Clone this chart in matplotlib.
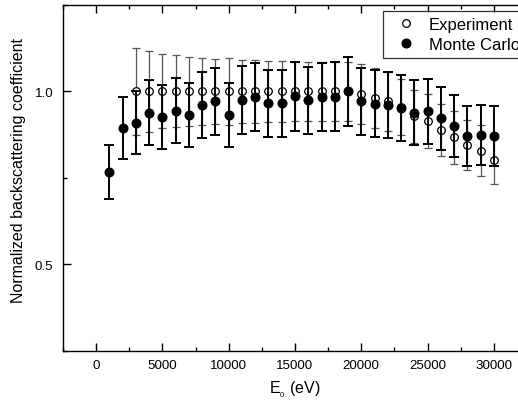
import numpy as np
import matplotlib
matplotlib.use("Agg")
import matplotlib.pyplot as plt
from matplotlib.ticker import MultipleLocator

plt.rcParams['font.family'] = ['Liberation Sans', 'DejaVu Sans']
plt.rcParams['mathtext.fontset'] = 'custom'
plt.rcParams['mathtext.rm'] = 'Liberation Sans'
plt.rcParams['mathtext.it'] = 'Liberation Sans'

# measured points
e_exp = [3000, 4000, 5000, 6000, 7000, 8000, 9000, 10000, 11000, 12000,
         13000, 14000, 15000, 16000, 17000, 18000, 19000, 20000, 21000, 22000,
         23000, 24000, 25000, 26000, 27000, 28000, 29000, 30000]
eta_exp = [1.0, 1.0, 1.0, 1.0, 1.0, 1.0, 1.0, 1.0, 1.0, 1.0,
           1.0, 1.0, 1.0, 1.0, 1.0, 1.0, 1.0, 0.993, 0.981, 0.971,
           0.955, 0.928, 0.914, 0.888, 0.867, 0.845, 0.829, 0.802]
err_exp = [0.125, 0.116, 0.107, 0.104, 0.100, 0.097, 0.093, 0.097, 0.091, 0.090,
           0.088, 0.088, 0.086, 0.085, 0.085, 0.085, 0.085, 0.087, 0.087, 0.085,
           0.080, 0.077, 0.078, 0.075, 0.076, 0.072, 0.075, 0.071]

# simulation
e_mc = [1000, 2000, 3000, 4000, 5000, 6000, 7000, 8000, 9000, 10000,
        11000, 12000, 13000, 14000, 15000, 16000, 17000, 18000, 19000, 20000,
        21000, 22000, 23000, 24000, 25000, 26000, 27000, 28000, 29000, 30000]
eta_mc = [0.767, 0.894, 0.910, 0.939, 0.927, 0.944, 0.931, 0.960, 0.971, 0.931,
          0.975, 0.983, 0.966, 0.966, 0.986, 0.974, 0.983, 0.985, 1.000, 0.972,
          0.965, 0.960, 0.953, 0.939, 0.942, 0.922, 0.900, 0.871, 0.873, 0.871]
err_mc = [0.077, 0.089, 0.091, 0.094, 0.093, 0.094, 0.093, 0.096, 0.097, 0.093,
          0.098, 0.098, 0.097, 0.097, 0.099, 0.097, 0.098, 0.099, 0.100, 0.097,
          0.097, 0.096, 0.095, 0.094, 0.094, 0.092, 0.090, 0.087, 0.087, 0.087]

fig = plt.figure(figsize=(5.18, 4.06), dpi=100)
# the frame runs past the right edge of the figure
ax = fig.add_axes([0.1216, 0.1337, 0.8958, 0.8515])

h_exp = ax.errorbar(e_exp, eta_exp, yerr=err_exp, fmt='o', ms=5.5,
                    mfc='white', mec='black', mew=0.9, ecolor='#555555',
                    elinewidth=0.9, capsize=3, capthick=0.9, zorder=2)
h_mc = ax.errorbar(e_mc, eta_mc, yerr=err_mc, fmt='o', ms=6.2,
                   mfc='black', mec='black', ecolor='black',
                   elinewidth=1.4, capsize=3.8, capthick=1.4, zorder=3)

ax.set_xlim(-2500, 32500)
ax.set_ylim(0.25, 1.25)
ax.xaxis.set_major_locator(MultipleLocator(5000))
ax.xaxis.set_minor_locator(MultipleLocator(2500))
ax.yaxis.set_major_locator(MultipleLocator(0.5))
ax.yaxis.set_minor_locator(MultipleLocator(0.25))
ax.tick_params(which='both', direction='in', top=True, right=True,
               width=1, labelsize=9.6)
ax.tick_params(which='major', length=5.5)
ax.tick_params(which='minor', length=3)
ax.tick_params(axis='x', pad=6)
ax.tick_params(axis='y', pad=7)
for s in ax.spines.values():
    s.set_linewidth(1.0)

ax.set_xlabel('E$_{_0}$ (eV)', fontsize=11.5, labelpad=5)
ax.set_ylabel('Normalized backscattering coefficient', fontsize=11.5)
ax.yaxis.set_label_coords(-0.080, 0.523)

leg = fig.legend([h_exp[0], h_mc[0]], ['Experiment', 'Monte Carlo'],
                 loc='upper left', bbox_to_anchor=(0.7394, 0.9697),
                 fontsize=12, frameon=True, fancybox=False, borderaxespad=0,
                 handletextpad=0.4, handlelength=2.0, borderpad=0.35,
                 labelspacing=0.3)
leg.get_frame().set_edgecolor('black')
leg.get_frame().set_linewidth(0.9)

fig.savefig('out.png', dpi=100)
